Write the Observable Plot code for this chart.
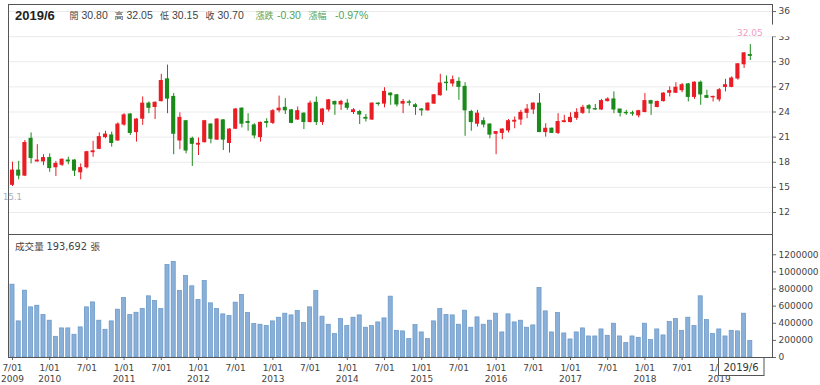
<!DOCTYPE html>
<html><head><meta charset="utf-8">
<script src="https://cdn.jsdelivr.net/npm/d3@7"></script>
<script src="https://cdn.jsdelivr.net/npm/@observablehq/plot@0.6"></script>
<style>
body{margin:0;background:#fff;}
#wrap{position:relative;width:820px;height:385px;overflow:hidden;}
#wrap svg{position:absolute;left:0;}
</style></head><body><div id="wrap"></div>
<script>
// ---- data ----
const months = [];
for (let y = 2009, m = 7; months.length < 120;) { months.push(`${y}/${m}`); m++; if (m > 12) { m = 1; y++; } }

const openP = [15.3,17.0,16.4,20.8,18.1,18.1,18.5,17.4,17.7,18.2,18.2,16.8,17.4,19.2,19.6,21.0,21.2,20.6,22.5,23.7,
21.6,23.2,25.0,24.6,25.3,27.9,25.8,20.6,22.9,20.8,20.1,20.4,22.5,20.7,23.0,20.3,22.0,24.4,22.8,22.4,
21.0,22.8,22.7,24.2,24.5,24.2,23.1,23.8,22.8,25.1,22.8,24.3,25.2,24.9,25.0,24.0,24.0,23.3,23.1,25.0,
25.0,26.2,26.0,25.0,25.15,24.8,24.3,24.2,25.0,26.0,27.5,27.4,27.6,27.0,24.0,22.6,22.9,22.5,21.4,21.5,
21.8,22.85,23.1,23.9,24.3,25.0,21.6,22.0,21.5,22.8,22.8,23.3,23.9,24.7,24.35,24.3,25.3,25.5,24.3,23.9,
23.85,23.6,24.0,25.3,24.6,25.3,26.3,26.3,26.6,27.3,25.8,27.5,25.9,25.75,25.5,27.0,27.0,28.0,29.7,30.8];
const highP = [18.0,18.1,20.6,21.5,20.1,18.9,19.0,18.1,18.4,18.6,18.3,17.8,19.3,20.5,21.5,21.7,21.6,22.7,23.8,23.8,
23.2,25.8,25.2,25.2,28.5,29.6,26.2,23.9,23.0,21.0,20.9,23.0,22.6,23.2,23.1,22.0,24.4,24.5,23.8,22.6,
22.8,23.2,24.3,25.9,25.6,24.3,24.6,23.9,25.3,25.8,24.4,25.5,25.3,25.4,25.5,24.4,24.2,23.7,25.1,25.1,
26.9,26.3,26.1,25.5,25.4,25.0,24.4,25.1,26.1,28.5,28.3,28.3,28.1,27.5,24.2,24.2,23.3,22.6,21.6,22.0,
23.1,23.4,24.2,24.9,25.1,26.2,22.6,22.1,23.8,23.6,23.9,24.4,24.8,24.9,24.9,25.5,25.7,26.4,24.3,24.2,
24.1,24.2,26.2,25.4,25.3,26.3,27.0,27.5,27.4,27.4,27.6,27.7,26.6,25.9,26.8,27.9,28.2,29.8,31.1,32.05];
const lowP = [15.1,15.9,16.3,17.8,18.0,17.6,16.8,16.3,17.5,17.7,16.3,15.9,17.2,18.6,19.5,20.8,19.8,20.5,22.3,21.2,
20.4,22.4,23.8,23.1,25.2,23.8,18.9,19.5,19.0,17.5,18.8,20.3,20.2,20.6,19.4,19.1,21.9,22.1,21.7,20.8,
20.4,22.1,22.5,23.9,23.7,22.6,23.0,21.9,22.7,22.4,22.4,24.0,23.6,24.2,24.2,23.7,22.5,22.8,23.0,24.7,
24.5,24.8,24.6,23.8,24.7,23.6,23.5,24.1,24.9,25.9,26.5,27.0,25.4,21.1,21.7,22.2,22.1,20.8,18.9,20.7,
21.5,22.0,22.4,23.2,23.7,21.6,21.0,21.5,21.3,22.7,22.7,23.0,23.7,23.8,24.2,24.2,25.2,23.8,23.4,23.6,
23.5,23.3,23.9,23.6,24.5,25.2,25.8,26.2,26.3,25.2,25.5,24.8,25.6,25.2,25.2,26.4,26.9,27.8,29.2,30.15];
const closeP = [17.0,16.4,20.3,18.5,18.2,18.5,17.3,17.8,18.3,18.1,17.0,17.3,19.2,19.3,21.0,21.3,20.3,22.5,23.6,21.5,
23.1,25.0,24.5,25.1,27.7,25.6,21.4,23.3,19.4,20.2,20.2,22.9,20.8,23.1,20.7,21.9,24.3,22.6,22.7,21.2,
22.7,22.7,24.1,24.4,24.2,22.7,24.1,22.8,25.0,22.8,24.3,25.4,24.9,25.2,24.5,24.2,23.7,23.2,25.0,24.95,
26.4,26.0,24.9,25.2,25.1,24.6,24.2,25.0,26.0,27.4,27.45,27.8,27.0,24.2,22.8,23.8,22.5,21.3,21.6,21.9,
22.9,22.95,23.9,24.3,25.0,21.6,22.0,21.5,22.8,22.9,23.3,23.9,24.5,24.4,24.3,25.3,25.5,24.3,23.9,23.85,
23.8,24.1,25.3,25.0,25.2,26.2,26.5,26.9,27.2,25.8,27.5,26.1,25.7,25.8,26.6,27.2,28.0,29.7,31.0,30.7];
const volume = [851000,422000,781000,586000,605000,496000,430000,242000,340000,340000,
266000,352000,586000,644000,430000,324000,422000,559000,695000,496000,
523000,566000,715000,660000,566000,1082000,1117000,777000,953000,832000,
672000,894000,633000,566000,504000,484000,641000,730000,520000,391000,
383000,367000,422000,465000,512000,492000,543000,402000,586000,777000,
477000,383000,273000,449000,367000,465000,492000,348000,367000,410000,
457000,711000,312000,305000,215000,379000,293000,215000,422000,566000,
496000,492000,383000,547000,348000,469000,383000,430000,512000,293000,
504000,410000,430000,348000,375000,812000,539000,293000,520000,281000,
211000,293000,340000,246000,246000,328000,254000,395000,246000,168000,
246000,230000,395000,203000,328000,258000,414000,449000,312000,465000,
367000,715000,437000,273000,328000,246000,312000,305000,512000,193692];

const priceTicks = [12,15,18,21,24,27,30,33,36];
const volTicks = [0,200000,400000,600000,800000,1000000,1200000];
const tickMonths = ["2009/7","2010/1","2010/7","2011/1","2011/7","2012/1","2012/7","2013/1","2013/7","2014/1",
"2014/7","2015/1","2015/7","2016/1","2016/7","2017/1","2017/7","2018/1","2018/7","2019/1"];
const tickLabels = ["7/01\n2009","1/01\n2010","7/01","1/01\n2011","7/01","1/01\n2012","7/01","1/01\n2013","7/01","1/01\n2014",
"7/01","1/01\n2015","7/01","1/01\n2016","7/01","1/01\n2017","7/01","1/01\n2018","7/01","1/01\n2019"];

// ---- build ----
const RED = "#ea1c24", GREEN = "#1b8a1b";
const data = months.map((m, i) => ({i, m, open: openP[i], high: highP[i], low: lowP[i], close: closeP[i], vol: volume[i], up: closeP[i] >= openP[i]}));
const tickIdx = tickMonths.map(m => months.indexOf(m));
const xDomain = [-0.645, 122.58];
const lowest = data.reduce((a, b) => b.low < a.low ? b : a);
const highest = data.reduce((a, b) => b.high > a.high ? b : a);
const AX = "DejaVu Sans, sans-serif";

const p1 = Plot.plot({
  width: 820, height: 235, marginLeft: 8, marginRight: 48, marginTop: 4, marginBottom: 1,
  style: {fontFamily: AX, fontSize: "9px", color: "#444", background: "transparent", overflow: "visible"},
  x: {domain: xDomain, axis: null},
  y: {domain: [9.37, 36.84]},
  marks: [
    Plot.gridY(priceTicks, {stroke: "#ebebeb", strokeOpacity: 1}),
    Plot.axisY(priceTicks, {anchor: "right", tickSize: 3, tickPadding: 3, stroke: "#666", fill: "#444", label: null}),
    Plot.frame({stroke: "#555"}),
    Plot.ruleX(data, {x: "i", y1: "low", y2: "high", stroke: d => d.up ? RED : GREEN}),
    Plot.rect(data, {x1: d => d.i - 0.33, x2: d => d.i + 0.33, y1: "open", y2: "close", fill: d => d.up ? RED : GREEN, insetTop: -0.5, insetBottom: -0.5}),
    Plot.text([lowest], {x: "i", y: "low", text: d => String(d.low), dy: 11, fill: "#a9b0b8", fontSize: 8.5})
  ]
});
p1.style.top = "0px";

const p2 = Plot.plot({
  width: 820, height: 151, marginLeft: 8, marginRight: 48, marginTop: 0, marginBottom: 28,
  style: {fontFamily: AX, fontSize: "9px", color: "#444", background: "transparent", overflow: "visible"},
  x: {domain: xDomain},
  y: {domain: [0, 1437000]},
  marks: [
    Plot.rect(data, {x1: d => d.i - 0.33, x2: d => d.i + 0.33, y1: 0, y2: "vol", fill: "#89b0d9", stroke: "#6694c6", strokeWidth: 0.7}),
    Plot.axisY(volTicks, {anchor: "right", tickSize: 3, tickPadding: 3, tickFormat: d => String(d), stroke: "#666", fill: "#444", label: null}),
    Plot.axisX(tickIdx, {anchor: "bottom", tickSize: 3, tickPadding: 3, tickFormat: d => tickLabels[tickIdx.indexOf(d)], lineHeight: 1.2, stroke: "#666", fill: "#444", label: null}),
    Plot.frame({stroke: "#555"})
  ]
});
p2.style.top = "234px";

const wrap = document.getElementById("wrap");
wrap.appendChild(p1);
wrap.appendChild(p2);

// ---- overlay texts ----
const last = data[data.length - 1], prev = data[data.length - 2];
const chg = last.close - prev.close;
const pct = chg / prev.close * 100;
const ov = d3.create("svg").attr("width", 820).attr("height", 385).style("top", "0px").style("position", "absolute");
const SANS = "Liberation Sans, Arial, sans-serif", CJK = "Noto Sans CJK TC, sans-serif";
function t(x, y, s, fam, size, fill, weight) {
  ov.append("text").attr("x", x).attr("y", y).attr("font-family", fam).attr("font-size", size)
    .attr("fill", fill).attr("font-weight", weight || "normal").text(s);
}
t(15, 20, last.m, SANS, 13, "#222", "bold");
const hdrLab = ["開", "高", "低", "收"];
const hdrVal = [last.open, last.high, last.low, last.close];
const hdrX = [69.5, 114.5, 160, 205.5];
hdrLab.forEach((l, k) => { t(hdrX[k], 19, l, CJK, 9, "#444"); t(hdrX[k] + 12, 19, hdrVal[k].toFixed(2), SANS, 10.5, "#444"); });
const G = "#55a355";
t(255.5, 19, "漲跌", CJK, 9, G);
t(277, 19, chg.toFixed(2), SANS, 10.5, G);
t(308.5, 19, "漲幅", CJK, 9, G);
t(335, 19, pct.toFixed(2) + "%", SANS, 10.5, G);

t(15, 250, "成交量", CJK, 9.6, "#444");
t(46.5, 250, d3.format(",")(last.vol), AX, 9.8, "#444");
t(90.5, 250, "張", CJK, 9.6, "#444");

// max label with white box
const hx = p1.scale("x").apply(highest.i), hy = p1.scale("y").apply(highest.high);
ov.append("rect").attr("x", hx - 17).attr("y", hy - 19.5).attr("width", 67).attr("height", 11.8).attr("fill", "#fff");
ov.append("text").attr("x", hx).attr("y", hy - 8.6).attr("text-anchor", "middle").attr("font-family", AX)
  .attr("font-size", 9).attr("fill", "#f29cc3").text(highest.high.toFixed(2));

// bottom date box
ov.append("rect").attr("x", 718.5).attr("y", 357.5).attr("width", 45.5).attr("height", 18).attr("fill", "#fff").attr("stroke", "#555");
ov.append("text").attr("x", 741).attr("y", 371).attr("text-anchor", "middle").attr("font-family", AX)
  .attr("font-size", 10).attr("fill", "#333").text(last.m);

wrap.appendChild(ov.node());
</script></body></html>
